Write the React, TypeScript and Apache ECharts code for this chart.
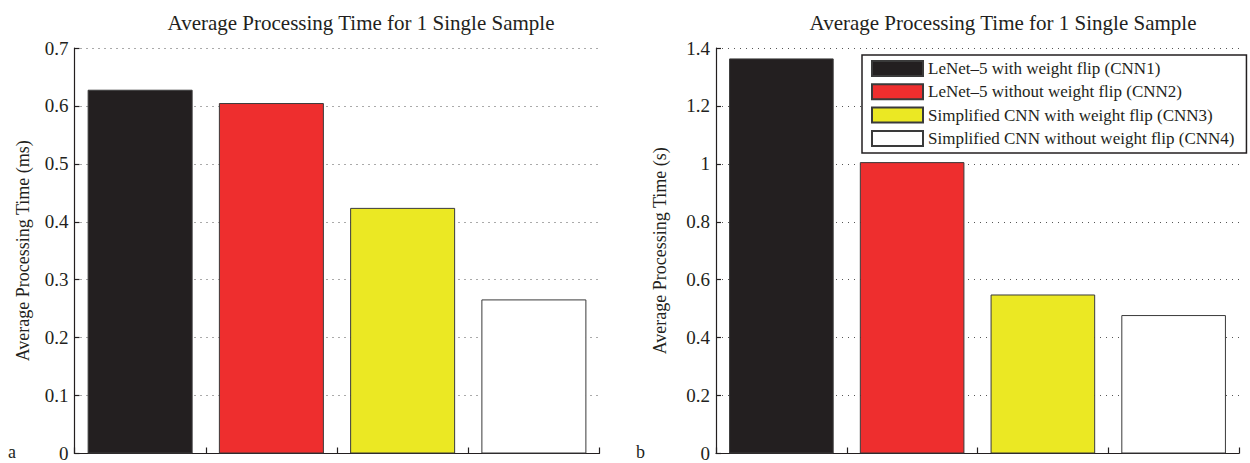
import React, { useEffect, useRef } from "react";
import * as echarts from "echarts";

const categories = ["CNN1", "CNN2", "CNN3", "CNN4"];
const seriesNames = [
  "LeNet\u20135 with weight flip (CNN1)",
  "LeNet\u20135 without weight flip (CNN2)",
  "Simplified CNN with weight flip (CNN3)",
  "Simplified CNN without weight flip (CNN4)",
];
const timesMs = [0.628, 0.605, 0.424, 0.266];
const timesS = [1.364, 1.006, 0.549, 0.478];
const barColors = ["#231f20", "#ee2e2e", "#ebe823", "#ffffff"];
const chartTitle = "Average Processing Time for 1 Single Sample";
const yNameA = "Average Processing Time (ms)";
const yNameB = "Average Processing Time (s)";
const panelLabels = ["a", "b"];

const FONT = "Liberation Serif";
const INK = "#231f20";

export default function App() {
  const ref = useRef<HTMLDivElement>(null);
  useEffect(() => {
    document.body.style.margin = "0";
    const chart = echarts.init(ref.current!, null, { renderer: "svg" });
    const grids = [
      { left: 74.5, top: 48, width: 525, height: 411 },
      { left: 716, top: 48, width: 523, height: 411 },
    ];
    const mkX = (g: number) => ({
      type: "category",
      gridIndex: g,
      data: categories,
      boundaryGap: true,
      axisLine: { lineStyle: { color: INK, width: 1.2 } },
      axisTick: { show: true, inside: true, length: 6, interval: 0, alignWithLabel: false, lineStyle: { color: INK, width: 1.2 } },
      axisLabel: { show: false },
      splitLine: { show: false },
    });
    const mkY = (g: number, max: number, interval: number, name: string, gap: number) => ({
      type: "value",
      gridIndex: g,
      min: 0,
      max,
      interval,
      name,
      nameLocation: "middle",
      nameGap: gap,
      nameTextStyle: { fontFamily: FONT, fontSize: 18, color: INK },
      axisLine: { show: true, lineStyle: { color: INK, width: 1.2 } },
      axisTick: { show: true, inside: true, length: 5, lineStyle: { color: INK, width: 1.2 } },
      axisLabel: { fontFamily: FONT, fontSize: 19, color: INK, margin: 6 },
      splitLine: { show: true, lineStyle: { color: "#555", width: 1, type: [1, 5] } },
    });
    const series: any[] = [];
    [timesMs, timesS].forEach((vals, g) => {
      vals.forEach((v, i) => {
        series.push({
          type: "bar",
          name: seriesNames[i],
          xAxisIndex: g,
          yAxisIndex: g,
          data: categories.map((_, j) => (j === i ? v : "-")),
          barWidth: "80%",
          barGap: "-100%",
          itemStyle: { color: barColors[i], borderColor: "#3a3a3a", borderWidth: 1 },
        });
      });
    });
    const titleStyle = { fontFamily: FONT, fontSize: 21, fontWeight: "normal", color: INK };
    chart.setOption({
      animation: false,
      backgroundColor: "#ffffff",
      grid: grids,
      xAxis: [mkX(0), mkX(1)],
      yAxis: [mkY(0, 0.7, 0.1, yNameA, 43), mkY(1, 1.4, 0.2, yNameB, 47)],
      title: [
        { text: chartTitle, left: 356, top: 7, textAlign: "center", textStyle: titleStyle },
        { text: chartTitle, left: 998, top: 7, textAlign: "center", textStyle: titleStyle },
      ],
      legend: {
        data: seriesNames,
        orient: "vertical",
        left: 862,
        top: 55,
        itemWidth: 51,
        itemHeight: 15,
        itemGap: 6.3,
        padding: [5, 12, 6, 9],
        backgroundColor: "#ffffff",
        borderColor: INK,
        borderWidth: 1.5,
        borderRadius: 0,
        icon: "rect",
        selectedMode: false,
        textStyle: { fontFamily: FONT, fontSize: 17, lineHeight: 15, color: INK },
      },
      graphic: [
        { type: "text", left: 8, top: 443, style: { text: panelLabels[0], font: `18px "${FONT}"`, fill: INK } },
        { type: "text", left: 636, top: 443, style: { text: panelLabels[1], font: `18px "${FONT}"`, fill: INK } },
      ],
      series,
    });
    return () => chart.dispose();
  }, []);
  return <div ref={ref} style={{ width: 1250, height: 463 }} />;
}
